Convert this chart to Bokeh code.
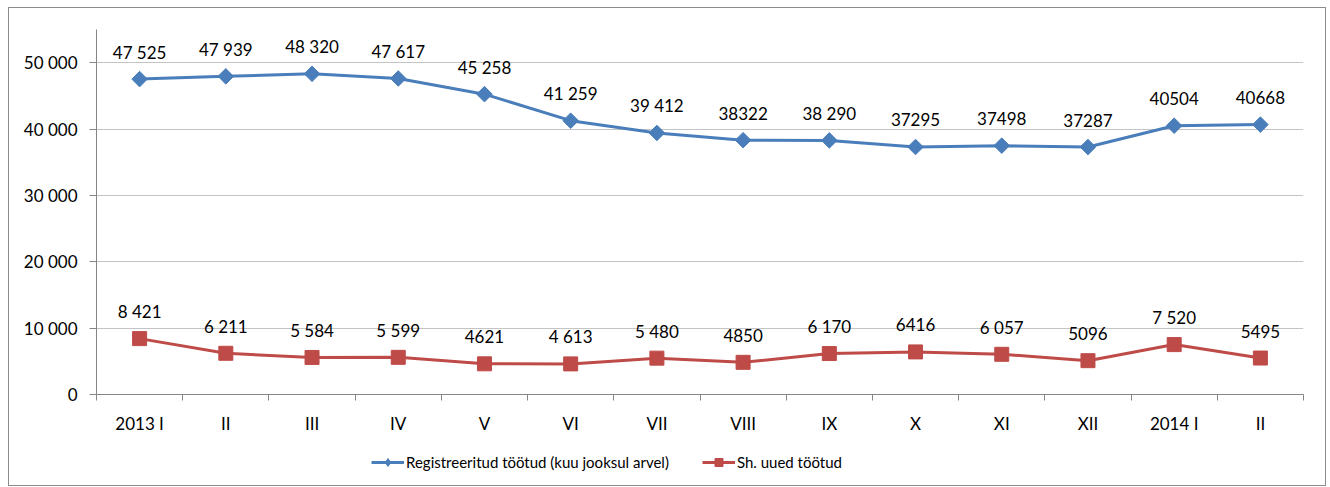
import math
from bokeh.plotting import figure
from bokeh.layouts import column
from bokeh.models import (FixedTicker, Range1d, Legend, LegendItem, ColumnDataSource)
from bokeh.core.properties import value
from bokeh.embed import file_html
from bokeh.resources import INLINE

categories = ["2013 I", "II", "III", "IV", "V", "VI", "VII", "VIII", "IX", "X", "XI", "XII", "2014 I", "II"]
registered = [47525, 47939, 48320, 47617, 45258, 41259, 39412, 38322, 38290, 37295, 37498, 37287, 40504, 40668]
registered_labels = ["47 525", "47 939", "48 320", "47 617", "45 258", "41 259", "39 412", "38322", "38 290",
                     "37295", "37498", "37287", "40504", "40668"]
new_unemployed = [8421, 6211, 5584, 5599, 4621, 4613, 5480, 4850, 6170, 6416, 6057, 5096, 7520, 5495]
new_labels = ["8 421", "6 211", "5 584", "5 599", "4621", "4 613", "5 480", "4850", "6 170", "6416",
              "6 057", "5096", "7 520", "5495"]
y_ticks = [0, 10000, 20000, 30000, 40000, 50000]
y_tick_labels = ["0", "10 000", "20 000", "30 000", "40 000", "50 000"]
series_names = ["Registreeritud töötud (kuu jooksul arvel)", "Sh. uued töötud"]

FONT = "Lato"
FS = "17px"
BLUE = "#4a7ebb"
RED = "#be4b48"

x = list(range(len(categories)))
src1 = ColumnDataSource(dict(x=x, y=registered, lab=registered_labels))
src2 = ColumnDataSource(dict(x=x, y=new_unemployed, lab=new_labels))

W = 1316
p = figure(width=W, height=430, output_backend="svg", toolbar_location=None,
           x_range=Range1d(-0.5, len(categories) - 0.5), y_range=Range1d(0, 55000),
           min_border_left=87, min_border_right=22, min_border_top=21, min_border_bottom=44)
p.outline_line_color = None
p.background_fill_color = "white"
p.border_fill_color = "white"

# axes
p.xaxis.ticker = FixedTicker(ticks=x, minor_ticks=[i - 0.5 for i in range(len(categories) + 1)])
p.xaxis.major_label_overrides = {i: c for i, c in enumerate(categories)}
p.xaxis.major_tick_line_color = None
p.xaxis.minor_tick_line_color = "#868686"
p.xaxis.minor_tick_out = 6
p.xaxis.minor_tick_in = 0
p.xaxis.axis_line_color = "#868686"
p.xaxis.major_label_standoff = 12
p.xaxis.major_label_text_font = FONT
p.xaxis.major_label_text_font_size = FS
p.xaxis.major_label_text_color = "#000000"

p.yaxis.ticker = FixedTicker(ticks=y_ticks)
p.yaxis.major_label_overrides = {t: l for t, l in zip(y_ticks, y_tick_labels)}
p.yaxis.minor_tick_line_color = None
p.yaxis.major_tick_line_color = "#868686"
p.yaxis.major_tick_out = 7
p.yaxis.major_tick_in = 0
p.yaxis.axis_line_color = "#868686"
p.yaxis.major_label_standoff = 12
p.yaxis.major_label_text_font = FONT
p.yaxis.major_label_text_font_size = FS
p.yaxis.major_label_text_color = "#000000"

p.xgrid.grid_line_color = None
p.ygrid.grid_line_color = "#c4c4c4"
p.ygrid.ticker = FixedTicker(ticks=y_ticks)

# series
p.line("x", "y", source=src1, line_color=BLUE, line_width=3)
p.scatter("x", "y", source=src1, marker="square", angle=math.pi / 4, size=11,
          fill_color=BLUE, line_color=BLUE)
p.line("x", "y", source=src2, line_color=RED, line_width=3)
p.scatter("x", "y", source=src2, marker="square", size=14, fill_color=RED, line_color=RED)

for s in (src1, src2):
    p.text("x", "y", text="lab", source=s, text_align="center", text_baseline="middle",
           y_offset=-27, text_font=value(FONT), text_font_size=FS, text_color="#000000")

# legend strip below the chart: same series, drawn out of view so only the legend shows
lg = figure(width=W, height=47, output_backend="svg", toolbar_location=None,
            x_range=Range1d(0, 1), y_range=Range1d(-2, -1),
            min_border_left=0, min_border_right=0, min_border_top=0, min_border_bottom=0)
lg.axis.visible = False
lg.grid.visible = False
lg.outline_line_color = None
a1 = lg.line("x", "y", source=src1, line_color=BLUE, line_width=3)
b1 = lg.scatter("x", "y", source=src1, marker="diamond", size=14,
                fill_color=BLUE, line_color=BLUE)
a2 = lg.line("x", "y", source=src2, line_color=RED, line_width=3)
b2 = lg.scatter("x", "y", source=src2, marker="square", size=13, fill_color=RED, line_color=RED)
legend = Legend(items=[LegendItem(label=series_names[0], renderers=[a1, b1]),
                       LegendItem(label=series_names[1], renderers=[a2, b2])],
                orientation="horizontal", location=(275, 13),
                label_text_font=FONT, label_text_font_size="15px", label_text_color="#000000",
                glyph_width=33, spacing=33, label_standoff=2, padding=0, margin=0,
                border_line_color=None, background_fill_alpha=0)
lg.add_layout(legend, "center")

layout = column(p, lg, spacing=0, margin=(8, 0, 0, 9))
layout.styles = {"outline": "1px solid #8c8c8c"}
open("out.html", "w").write(file_html(layout, INLINE))
